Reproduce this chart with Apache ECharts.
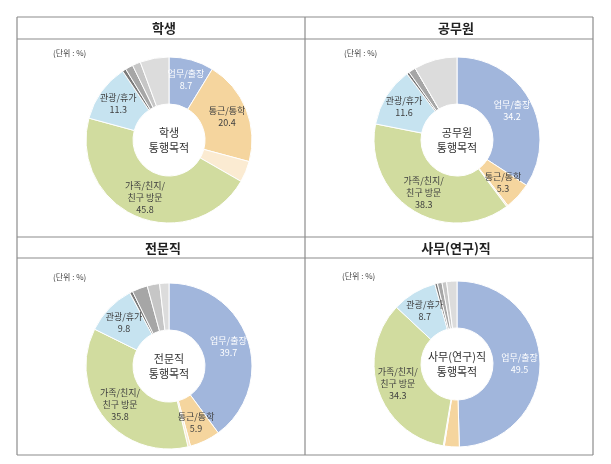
<!DOCTYPE html>
<html>
<head>
<meta charset="utf-8">
<script src="https://cdn.jsdelivr.net/npm/echarts@6/dist/echarts.min.js"></script>
<style>
html,body{margin:0;padding:0;background:#fff;}
#c{width:611px;height:464px;}
</style>
</head>
<body>
<div id="c"></div>
<script>
// ---- data ----
const panels = ['학생', '공무원', '전문직', '사무(연구)직'];
const categories = ['업무/출장', '통근/통학', '쇼핑', '가족/친지/친구 방문', '관광/휴가', '기타1', '기타2', '기타3', '기타4'];
const student = [8.7, 20.4, 4.1, 45.8, 11.3, 0.7, 1.5, 1.6, 5.6];
const official = [34.2, 5.3, 0.3, 38.3, 11.6, 0.5, 1.4, 0, 8.4];
const professional = [39.7, 5.9, 0.5, 35.8, 9.8, 0.6, 3.0, 2.4, 1.8];
const office = [49.5, 2.9, 0.2, 34.3, 8.7, 0.5, 0.9, 0.9, 2.0];
const unitText = '(단위 : %)';
const centerSuffix = '통행목적';
const labeledIdx = [0, 1, 3, 4];

// ---- styles ----
const colors = ['#a1b6dc', '#f5d59e', '#fbebd2', '#d1dc9f', '#c6e3f0', '#7a7a7a', '#a6a6a6', '#c6c6c6', '#dcdcdc'];
const font = '"Noto Sans CJK KR", sans-serif';
const allData = [student, official, professional, office];
const centers = [[169, 140], [457, 140], [169, 366], [457, 364]];
const titlePos = [[164, 28], [456, 28], [163, 248], [456, 248]];
const unitPos = [[53, 53], [344, 53], [53, 277], [342, 276]];

function fmtName(n) { return n === '가족/친지/친구 방문' ? '가족/친지/\n친구 방문' : n; }

const series = allData.map((vals, p) => ({
  type: 'pie',
  center: centers[p],
  radius: [36, 83],
  startAngle: 90,
  clockwise: true,
  silent: true,
  animation: false,
  itemStyle: { borderColor: '#fff', borderWidth: 1 },
  labelLine: { show: false },
  data: vals.map((v, i) => ({
    name: categories[i],
    value: v,
    itemStyle: { color: colors[i] },
    label: {
      show: labeledIdx.indexOf(i) >= 0 && v >= 5,
      position: 'inside',
      color: i === 0 ? '#ffffff' : '#404040',
      fontSize: 9,
      fontFamily: font,
      lineHeight: 12,
      formatter: (pr) => fmtName(pr.name) + '\n' + pr.value.toFixed(1)
    }
  }))
}));

const graphics = [];
const lc = '#8c8c8c';
function line(x1, y1, x2, y2) {
  graphics.push({ type: 'line', shape: { x1, y1, x2, y2 }, style: { stroke: lc, lineWidth: 1.2 }, silent: true });
}
[17, 39, 237, 258, 455].forEach(y => line(17, y, 593, y));
[17, 305, 593].forEach(x => line(x, 17, x, 455));

panels.forEach((name, p) => {
  graphics.push({ type: 'text', x: titlePos[p][0], y: titlePos[p][1], style: { text: name, font: 'bold 13px ' + font, fill: '#222', align: 'center', verticalAlign: 'middle' }, silent: true });
  graphics.push({ type: 'text', x: unitPos[p][0], y: unitPos[p][1], style: { text: unitText, font: '8px ' + font, fill: '#444', align: 'left', verticalAlign: 'middle' }, silent: true });
  graphics.push({ type: 'text', x: centers[p][0], y: centers[p][1], style: { text: name + '\n' + centerSuffix, font: '11px ' + font, fill: '#333', align: 'center', verticalAlign: 'middle', lineHeight: 15 }, silent: true });
});

const chart = echarts.init(document.getElementById('c'), null, { renderer: 'canvas' });
chart.setOption({
  backgroundColor: '#fff',
  animation: false,
  series: series,
  graphic: graphics
});
</script>
</body>
</html>
